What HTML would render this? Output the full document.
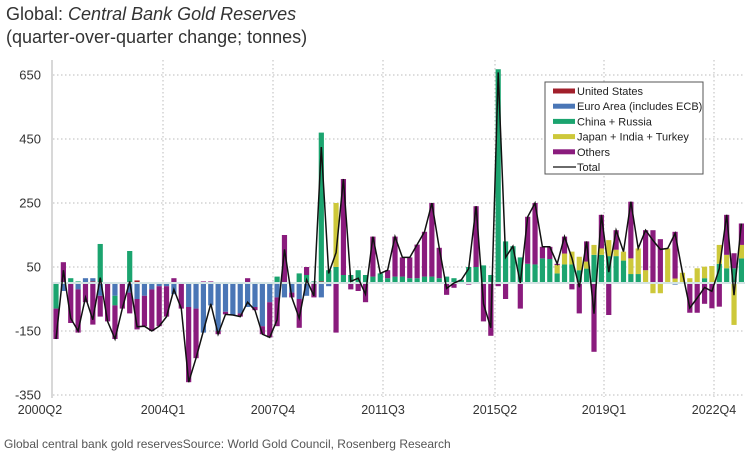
<!DOCTYPE html>
<html><head><meta charset="utf-8">
<style>
body{margin:0;background:#fff;width:750px;height:455px;overflow:hidden;font-family:"Liberation Sans",sans-serif;}
.t{position:absolute;left:6px;color:#333;font-size:18px;}
</style></head><body>
<div class="t" style="top:4px">Global: <i>Central Bank Gold Reserves</i></div>
<div class="t" style="top:27px">(quarter-over-quarter change; tonnes)</div>
<div style="position:absolute;left:4px;top:437px;font-size:12px;color:#555">Global central bank gold reservesSource: World Gold Council, Rosenberg Research</div>
<svg id="c" width="750" height="455" style="position:absolute;left:0;top:0"></svg>
<script>
var D=[[0,0,-80,0,-95],[0,-25,0,0,65],[0,0,15,0,-125],[0,-20,5,0,-135],[0,15,0,0,-60],[5,10,0,0,-130],[0,-40,122,0,-65],[0,0,0,0,-120],[0,-40,-30,0,-105],[0,0,0,0,-80],
[0,-30,100,0,-65],[8,-50,0,0,-95],[0,-40,0,0,-95],[0,-20,0,0,-130],[0,-10,0,0,-125],[0,-10,0,0,-95],[0,-35,0,0,15],[0,0,0,0,-80],[0,-75,0,0,-235],[0,-80,0,0,-155],
[0,-155,0,0,5],[0,-70,0,0,5],[0,-150,0,0,-10],[0,-90,0,0,-8],[0,-100,0,0,0],[0,-95,0,0,-10],[0,-75,0,0,15],[0,-75,0,0,-10],[0,-135,0,0,-25],[0,-60,0,0,-110],
[0,-45,20,0,-90],[0,-45,0,0,150],[0,-30,0,0,-15],[0,-50,30,0,-90],[0,-40,25,0,25],[0,0,5,0,-45],[5,-45,465,0,0],[0,-10,40,0,0],[0,0,50,200,-155],[0,0,25,0,300],
[0,0,25,0,-20],[0,0,40,0,-25],[0,0,25,0,-60],[0,0,20,0,125],[0,0,30,0,0],[0,0,15,0,25],[0,0,20,0,125],[0,0,20,0,60],[0,0,15,0,65],[0,0,15,0,105],
[0,0,20,0,140],[0,0,20,0,230],[0,0,15,0,95],[0,0,20,0,-37],[0,0,15,0,-15],[0,0,10,0,0],[0,0,50,0,-5],[0,0,50,0,190],[0,0,55,0,-120],[0,0,25,0,-165],
[0,0,668,0,-10],[0,0,130,0,-50],[0,0,115,0,0],[0,0,80,0,-80],[0,0,60,0,147],[0,0,58,0,192],[0,0,77,0,36],[0,0,75,0,38],[0,0,30,26,4],[0,0,58,34,53],
[0,0,58,40,-20],[0,0,40,42,-95],[0,0,45,22,63],[0,0,88,31,-215],[0,0,88,20,105],[0,0,84,50,-100],[0,0,84,20,61],[0,0,70,28,0],[0,0,28,49,177],[0,0,28,80,0],
[0,0,0,40,125],[0,0,0,-32,165],[0,0,0,-32,137],[0,0,0,108,0],[0,-5,0,14,146],[0,0,0,32,0],[0,0,0,15,-93],[0,0,0,46,-93],[0,0,15,36,-65],[0,0,0,53,-79],
[0,0,60,59,-74],[0,0,46,42,125],[0,0,46,-131,47],[0,0,77,42,67]];
var C=["#a11f2b","#4a76b6","#1ba46f","#cdc83a","#8a1b7d"];
var Z=283,S=0.32,s='';
function Y(v){return Z-v*S;}
// grid
[650,450,250,50,-150,-350].forEach(function(v){var y=Y(v);
 s+='<line x1="53" x2="745" y1="'+y+'" y2="'+y+'" stroke="#bbb" stroke-width="1" stroke-dasharray="1.5,2.5"/>';
 s+='<text x="41" y="'+(y+4.5)+'" text-anchor="end" font-size="13" fill="#333">'+v+'</text>';});
var L=[["2000Q2",52],["2004Q1",163],["2007Q4",273],["2011Q3",383],["2015Q2",495],["2019Q1",604],["2022Q4",714]];
L.forEach(function(a,k){ if(k>0)s+='<line x1="'+a[1]+'" x2="'+a[1]+'" y1="60" y2="397" stroke="#bbb" stroke-dasharray="1.5,2.5"/>';
 s+='<text x="'+(a[1]+(k==0?-12:0))+'" y="414" text-anchor="middle" font-size="12.5" fill="#333">'+a[0]+'</text>';});
s+='<line x1="52" x2="52" y1="60" y2="398" stroke="#ccc" stroke-width="1.5"/>';
var pts=[];
D.forEach(function(d,i){var x=56+7.37*i,p=0,n=0,tot=0;
 d.forEach(function(v,j){if(!v)return;tot+=v;var y0,h;
  if(v>0){y0=Y(p+v);h=v*S;p+=v;}else{y0=Y(n);h=-v*S;n+=v;}
  s+='<rect x="'+(x-2.6)+'" y="'+y0+'" width="5.2" height="'+h+'" fill="'+C[j]+'"/>';});
 pts.push(x.toFixed(1)+','+Y(tot).toFixed(1));});
s+='<line x1="53" x2="745" y1="'+Z+'" y2="'+Z+'" stroke="#d4e4e4" stroke-width="2"/>';
s+='<polyline points="'+pts.join(' ')+'" fill="none" stroke="#111" stroke-width="1.5"/>';
// legend
s+='<rect x="545" y="82" width="158" height="92" fill="#fff" stroke="#555" stroke-width="1"/>';
var N=["United States","Euro Area (includes ECB)","China + Russia","Japan + India + Turkey","Others","Total"];
N.forEach(function(t,k){var y=91+k*15.2;
 if(k<5)s+='<rect x="553" y="'+(y-2.5)+'" width="22" height="5" fill="'+C[k]+'"/>';
 else s+='<line x1="553" x2="576" y1="'+y+'" y2="'+y+'" stroke="#111" stroke-width="1.3"/>';
 s+='<text x="577" y="'+(y+4)+'" font-size="11" fill="#222">'+t+'</text>';});
document.getElementById('c').innerHTML=s;
</script>
</body></html>
